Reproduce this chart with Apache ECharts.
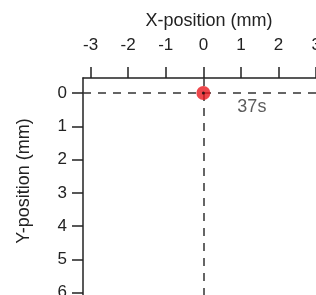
<!DOCTYPE html>
<html>
<head>
<meta charset="utf-8">
<script src="https://cdn.jsdelivr.net/npm/echarts@6/dist/echarts.min.js"></script>
<style>
  html, body { margin: 0; padding: 0; background: #fff; }
  #chart { width: 316px; height: 295px; }
</style>
</head>
<body>
<div id="chart"></div>
<script>
// 刻度
const xTicks = [-3, -2, -1, 0, 1, 2, 3];
const yTicks = [0, 1, 2, 3, 4, 5, 6, 7];
// 点的位置 (mm) 和时间标签
const pointX = [0];
const pointY = [0];
const pointLabels = ['37s'];

const font = 'Liberation Sans, Arial, sans-serif';
const ink = '#222';

const chart = echarts.init(document.getElementById('chart'));

const option = {
    animation: false,
    textStyle: { fontFamily: font, color: ink },
    // 网格超出画布，只露出左上部分
    grid: { left: 83, top: 78, width: 252, height: 248, outerBoundsMode: 'none', containLabel: false },
    xAxis: {
        type: 'value',
        position: 'top',
        min: -3.2,
        max: 3.5,
        name: 'X-position (mm)',
        nameLocation: 'middle',
        nameGap: 48,
        nameTextStyle: { fontSize: 18, color: ink, fontFamily: font },
        splitLine: { show: false },
        axisLine: { onZero: false, lineStyle: { color: ink, width: 1.5 } },
        axisTick: {
            customValues: xTicks,
            length: 11,
            lineStyle: { color: ink, width: 1.5 }
        },
        axisLabel: {
            customValues: xTicks,
            fontSize: 17,
            color: ink,
            fontFamily: font,
            margin: 24
        }
    },
    yAxis: {
        type: 'value',
        inverse: true,
        min: -0.45,
        max: 7,
        splitLine: { show: false },
        axisLine: { onZero: false, lineStyle: { color: ink, width: 1.5 } },
        axisTick: {
            customValues: yTicks,
            length: 11,
            lineStyle: { color: ink, width: 1.5 }
        },
        axisLabel: {
            customValues: yTicks,
            fontSize: 17,
            color: ink,
            fontFamily: font,
            margin: 16
        }
    },
    graphic: [{
        type: 'text',
        x: 24,
        y: 181,
        rotation: Math.PI / 2,
        style: {
            text: 'Y-position (mm)',
            fontSize: 18,
            fontFamily: font,
            fill: ink,
            align: 'center',
            verticalAlign: 'middle'
        }
    }],
    series: [
        {
            type: 'scatter',
            data: pointX.map((x, i) => [x, pointY[i]]),
            symbolSize: 14,
            itemStyle: { color: '#e8191f' },
            z: 5,
            label: {
                show: true,
                formatter: p => pointLabels[p.dataIndex],
                position: [41, 12],
                align: 'left',
                verticalAlign: 'top',
                fontSize: 18,
                color: '#333',
                fontFamily: font
            },
            markLine: {
                silent: true,
                symbol: 'none',
                label: { show: false },
                lineStyle: { type: [8, 7], color: '#333', width: 1.5 },
                data: [{ xAxis: 0 }, { yAxis: 0 }]
            }
        },
        {
            // 中心小黑点
            type: 'scatter',
            data: pointX.map((x, i) => [x, pointY[i]]),
            symbolSize: 3,
            itemStyle: { color: '#111' },
            z: 6
        }
    ]
};

chart.setOption(option);
</script>
</body>
</html>
